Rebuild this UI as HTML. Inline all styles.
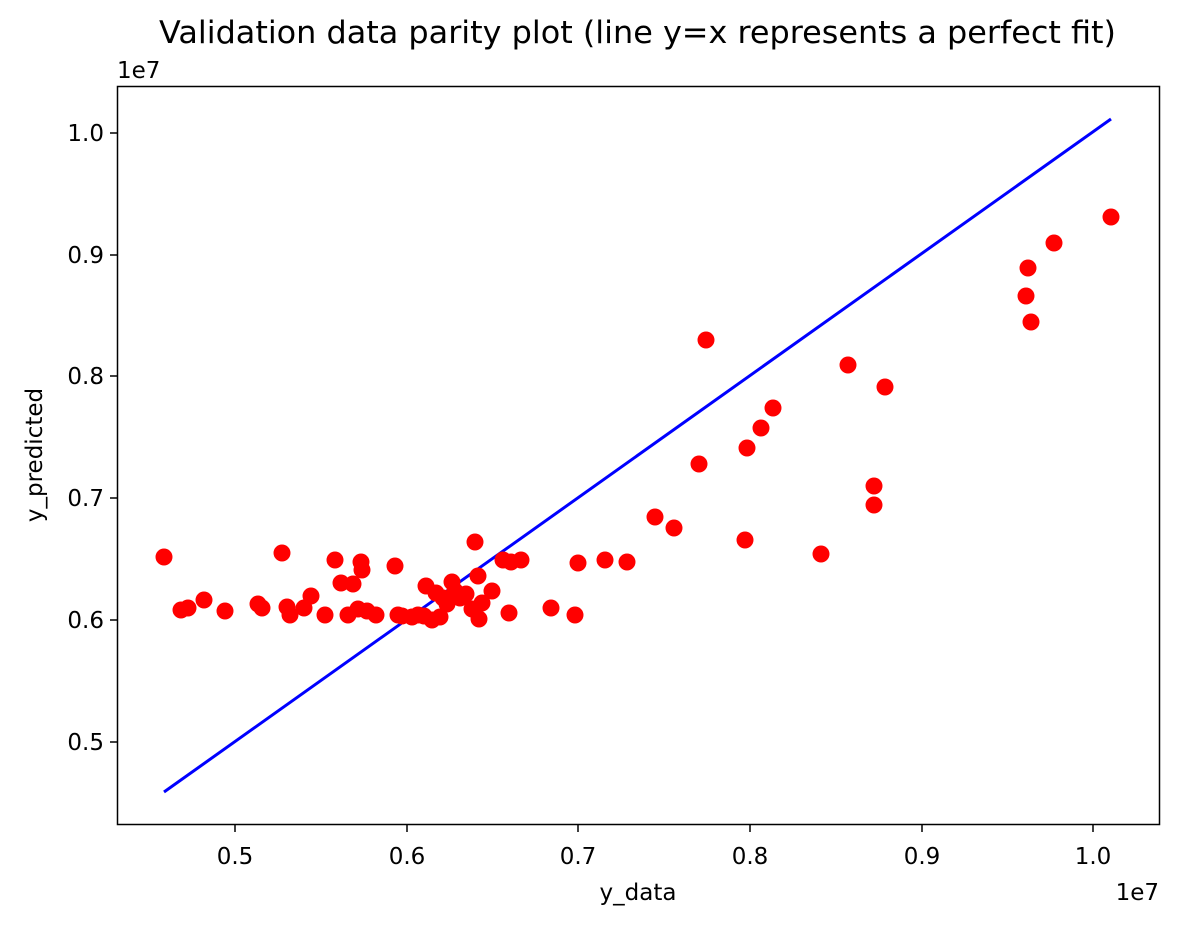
<!DOCTYPE html>
<html><head><meta charset="utf-8"><style>body{margin:0;background:#fff}svg{display:block}text{font-family:"DejaVu Sans","Liberation Sans",sans-serif;fill:#000}</style></head><body>
<svg width="1177" height="926" viewBox="0 0 1177 926" xmlns="http://www.w3.org/2000/svg">
<rect width="1177" height="926" fill="#fff"/>
<line x1="164" y1="792" x2="1111" y2="119" stroke="#0000ff" stroke-width="3"/>
<g fill="#ff0000">
<circle cx="164" cy="557" r="8.5"/><circle cx="181" cy="610" r="8.5"/><circle cx="188" cy="608" r="8.5"/><circle cx="204" cy="600" r="8.5"/><circle cx="225" cy="611" r="8.5"/><circle cx="258" cy="604" r="8.5"/><circle cx="262" cy="608" r="8.5"/><circle cx="282" cy="553" r="8.5"/><circle cx="287" cy="607" r="8.5"/><circle cx="290" cy="615" r="8.5"/><circle cx="304" cy="608" r="8.5"/><circle cx="311" cy="596" r="8.5"/><circle cx="325" cy="615" r="8.5"/><circle cx="335" cy="560" r="8.5"/><circle cx="341" cy="583" r="8.5"/><circle cx="348" cy="615" r="8.5"/><circle cx="353" cy="584" r="8.5"/><circle cx="358" cy="609" r="8.5"/><circle cx="361" cy="562" r="8.5"/><circle cx="362" cy="570" r="8.5"/><circle cx="367" cy="611" r="8.5"/><circle cx="376" cy="615" r="8.5"/><circle cx="395" cy="566" r="8.5"/><circle cx="398" cy="615" r="8.5"/><circle cx="402" cy="616" r="8.5"/><circle cx="412" cy="617" r="8.5"/><circle cx="418" cy="615" r="8.5"/><circle cx="424" cy="616" r="8.5"/><circle cx="426" cy="586" r="8.5"/><circle cx="432" cy="620" r="8.5"/><circle cx="436" cy="593" r="8.5"/><circle cx="440" cy="617" r="8.5"/><circle cx="443" cy="598" r="8.5"/><circle cx="447" cy="604" r="8.5"/><circle cx="452" cy="582" r="8.5"/><circle cx="455" cy="591" r="8.5"/><circle cx="460" cy="598" r="8.5"/><circle cx="466" cy="594" r="8.5"/><circle cx="472" cy="609" r="8.5"/><circle cx="475" cy="542" r="8.5"/><circle cx="478" cy="576" r="8.5"/><circle cx="479" cy="619" r="8.5"/><circle cx="482" cy="603" r="8.5"/><circle cx="492" cy="591" r="8.5"/><circle cx="503" cy="560" r="8.5"/><circle cx="509" cy="613" r="8.5"/><circle cx="511" cy="562" r="8.5"/><circle cx="521" cy="560" r="8.5"/><circle cx="551" cy="608" r="8.5"/><circle cx="575" cy="615" r="8.5"/><circle cx="578" cy="563" r="8.5"/><circle cx="605" cy="560" r="8.5"/><circle cx="627" cy="562" r="8.5"/><circle cx="655" cy="517" r="8.5"/><circle cx="674" cy="528" r="8.5"/><circle cx="699" cy="464" r="8.5"/><circle cx="706" cy="340" r="8.5"/><circle cx="745" cy="540" r="8.5"/><circle cx="747" cy="448" r="8.5"/><circle cx="761" cy="428" r="8.5"/><circle cx="773" cy="408" r="8.5"/><circle cx="821" cy="554" r="8.5"/><circle cx="848" cy="365" r="8.5"/><circle cx="874" cy="486" r="8.5"/><circle cx="874" cy="505" r="8.5"/><circle cx="885" cy="387" r="8.5"/><circle cx="1026" cy="296" r="8.5"/><circle cx="1028" cy="268" r="8.5"/><circle cx="1031" cy="322" r="8.5"/><circle cx="1054" cy="243" r="8.5"/><circle cx="1111" cy="217" r="8.5"/>
</g>
<rect x="117.5" y="86.5" width="1042" height="738" fill="none" stroke="#000" stroke-width="1.5"/>
<g stroke="#000" stroke-width="1.5">
<line x1="235" y1="825" x2="235" y2="832"/><line x1="407" y1="825" x2="407" y2="832"/><line x1="578" y1="825" x2="578" y2="832"/><line x1="750" y1="825" x2="750" y2="832"/><line x1="922" y1="825" x2="922" y2="832"/><line x1="1093" y1="825" x2="1093" y2="832"/>
<line x1="110" y1="133" x2="117" y2="133"/><line x1="110" y1="255" x2="117" y2="255"/><line x1="110" y1="376" x2="117" y2="376"/><line x1="110" y1="498" x2="117" y2="498"/><line x1="110" y1="620" x2="117" y2="620"/><line x1="110" y1="742" x2="117" y2="742"/>
</g>
<g font-size="23" text-anchor="middle">
<text x="235" y="864">0.5</text><text x="407" y="864">0.6</text><text x="578" y="864">0.7</text><text x="750" y="864">0.8</text><text x="922" y="864">0.9</text><text x="1093" y="864">1.0</text>
</g>
<g font-size="23" text-anchor="end">
<text x="104" y="141">1.0</text><text x="104" y="263">0.9</text><text x="104" y="384">0.8</text><text x="104" y="506">0.7</text><text x="104" y="628">0.6</text><text x="104" y="750">0.5</text>
</g>
<text x="1159" y="900" font-size="23" text-anchor="end">1e7</text>
<text x="117" y="78" font-size="23">1e7</text>
<text x="638" y="900" font-size="23" text-anchor="middle">y_data</text>
<text transform="translate(42,455) rotate(-90)" font-size="23" text-anchor="middle">y_predicted</text>
<text x="159" y="43" font-size="31" textLength="957" lengthAdjust="spacingAndGlyphs">Validation data parity plot (line y=x represents a perfect fit)</text>
</svg>
</body></html>
